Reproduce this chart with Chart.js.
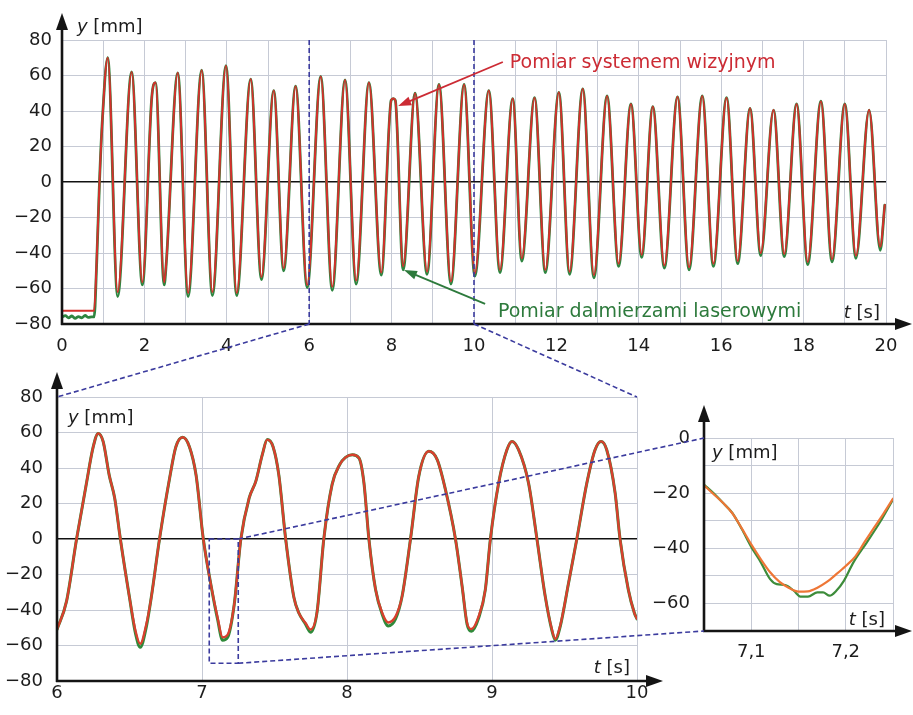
<!DOCTYPE html>
<html><head><meta charset="utf-8">
<script src="https://cdn.jsdelivr.net/npm/chart.js@4.4.1/dist/chart.umd.min.js"></script>
<style>
html,body{margin:0;padding:0;background:#fff;overflow:hidden;width:913px;height:715px;}
#wrap{position:absolute;left:0;top:0;width:913px;height:715px;overflow:hidden;background:#fff;}
canvas{position:absolute;left:0;top:0;display:block;}
</style></head><body>
<div id="wrap">
<canvas id="cTop" width="913" height="715"></canvas>
<canvas id="cBot" width="913" height="715"></canvas>
<canvas id="cIns" width="913" height="715"></canvas>
<canvas id="cOver" width="913" height="715"></canvas>
</div>
<script>
// ---------- DATA ----------
// Top panel: 0–20 s, vision system (red)
const topRedT = [0,0.78,0.84,0.91,0.98,1.11,1.35,1.69,1.95,2.18,2.27,2.48,2.53,2.81,3.06,3.39,3.65,3.98,4.24,4.58,4.84,5.14,5.38,5.67,5.95,6.28,6.56,6.87,7.14,7.45,7.75,7.99,8.04,8.09,8.28,8.57,8.86,9.15,9.44,9.76,10.02,10.36,10.63,10.94,11.16,11.47,11.73,12.06,12.32,12.64,12.91,13.23,13.51,13.81,14.07,14.34,14.62,14.94,15.22,15.54,15.81,16.13,16.40,16.70,16.96,17.27,17.53,17.83,18.10,18.42,18.69,19.00,19.27,19.59,19.86,19.97];
const topRed  = [-72.5,-72.5,-45,0,35,70,-62,62,-56.5,48,56,-56.5,-46,61.5,-62.5,63,-62,65.5,-62.5,58,-53.5,51.5,-48.5,54,-58,59.5,-59,57.5,-55.5,56,-51,46,47,46,-47.5,50,-50.5,55,-56,55,-51.5,51.5,-49.5,47,-43,47.5,-49.5,50.5,-50.5,52.5,-52.5,48.5,-46,44,-41,42.5,-47,48,-48,48.5,-46,47.5,-44.5,41.5,-40,40.5,-40.5,44,-45,45.5,-43.5,44,-41.5,40.5,-36.5,-13];
// Top panel: laser range finders (green)
const topGreenT = [0,0.08,0.16,0.24,0.32,0.40,0.48,0.56,0.64,0.72,0.78,0.84,0.91,0.98,1.11,1.35,1.69,1.95,2.18,2.27,2.48,2.53,2.81,3.06,3.39,3.65,3.98,4.24,4.58,4.84,5.14,5.38,5.67,5.95,6.28,6.56,6.87,7.14,7.45,7.75,7.99,8.04,8.09,8.28,8.57,8.86,9.15,9.44,9.76,10.02,10.36,10.63,10.94,11.16,11.47,11.73,12.06,12.32,12.64,12.91,13.23,13.51,13.81,14.07,14.34,14.62,14.94,15.22,15.54,15.81,16.13,16.40,16.70,16.96,17.27,17.53,17.83,18.10,18.42,18.69,19.00,19.27,19.59,19.86,19.97];
const topGreen  = [-76,-75.3,-76.5,-75.5,-76.8,-75.8,-76.5,-75.2,-76.3,-76,-76,-47,0,35,70,-64.5,62,-58,48,56,-58,-46,61.5,-64.5,63,-64,65.5,-64,58,-55,51.5,-50,54,-59.5,59.5,-61,57.5,-57.5,56,-52.5,46,47,46,-49.5,50,-52,55,-57.5,55,-53,51.5,-51,47,-44.5,47.5,-51,50.5,-52,52.5,-54,48.5,-47.5,44,-42.5,42.5,-48.5,48,-49.5,48.5,-47.5,47.5,-46,41.5,-41.5,40.5,-42,44,-46.5,45.5,-45,44,-43,40.5,-38.5,-13];

// Bottom-left panel: 6–10 s
const botT = [6.000,6.066,6.135,6.200,6.250,6.284,6.318,6.360,6.398,6.437,6.500,6.542,6.574,6.616,6.650,6.707,6.776,6.820,6.867,6.913,6.959,7.009,7.062,7.108,7.142,7.176,7.222,7.268,7.325,7.371,7.416,7.450,7.490,7.530,7.577,7.634,7.668,7.714,7.748,7.794,7.840,7.897,7.950,7.990,8.037,8.083,8.117,8.151,8.197,8.243,8.284,8.335,8.380,8.438,8.495,8.564,8.622,8.679,8.748,8.794,8.828,8.858,8.908,8.954,8.989,9.046,9.103,9.138,9.183,9.252,9.310,9.367,9.413,9.436,9.470,9.528,9.585,9.654,9.711,9.752,9.791,9.849,9.883,9.940,9.982,10.000];
const botRed = [-51,-35,0,30,52,59.5,55,36,23,0,-33,-52,-59,-48,-33,0,34,52,57.3,52,36,0,-26,-44.5,-55.4,-54,-37,0,23,32.5,47.5,56,52,36,0,-33,-41.7,-47.3,-51,-40.8,0,30.6,42,46,47.5,45.6,31.5,0,-28.5,-41.7,-47,-43.6,-32.3,0,35.3,49.4,44.7,27.8,0,-26.7,-47.3,-50.7,-43.6,-28.5,0,31.5,50.3,55,50.3,31.5,0,-32.3,-51,-56.3,-49,-24.8,0,31.5,50.3,55,50.3,26,0,-28.5,-41.7,-45];
const botGreen = [-51,-35,0,30,52,59.5,55,36,23,0,-33,-53.5,-61,-49.5,-33,0,34,52,57.3,52,36,0,-26,-45.5,-57,-55.5,-37,0,23,32.5,47.5,56,52,36,0,-33,-41.7,-48,-52.5,-40.8,0,30.6,42,46,47.5,45.6,31.5,0,-28.5,-42.5,-49,-45,-32.3,0,35.3,49.4,44.7,27.8,0,-26.7,-48,-52,-44.5,-28.5,0,31.5,50.3,55,50.3,31.5,0,-32.3,-51.5,-57,-49.5,-24.8,0,31.5,50.3,55,50.3,26,0,-28.5,-41.7,-45];

// Inset panel: 7.05–7.25 s
const insRedT = [7.05,7.06,7.07,7.08,7.09,7.10,7.11,7.12,7.13,7.14,7.15,7.16,7.17,7.18,7.19,7.20,7.21,7.22,7.23,7.24,7.25];
const insRed  = [-17.2,-20.3,-23.5,-27.3,-32.8,-38.6,-43.9,-48.7,-52.2,-54.4,-55.7,-55.6,-54.3,-52.2,-49.4,-46.4,-43,-37.7,-32.5,-27.4,-22];
const insGreenT = [7.05,7.06,7.07,7.08,7.09,7.10,7.11,7.12,7.127,7.136,7.145,7.152,7.16,7.17,7.176,7.183,7.19,7.198,7.208,7.222,7.237,7.25];
const insGreen  = [-16.9,-20,-23.5,-27.2,-33,-39.5,-45,-51.2,-53,-53.3,-55.4,-57.5,-57.5,-56,-56,-57.2,-55.4,-51.8,-45.2,-38,-30.1,-22.3];

// Tick settings
const topXTicks = {min:0, max:20, step:1};
const topYTicks = {min:-80, max:80, step:20};
const botXTicks = {min:6, max:10, step:1};
const botYTicks = {min:-80, max:80, step:20};
const insXTicks = {min:7.05, max:7.25, step:0.05};
const insYTicks = {min:-70, max:0, step:10};

// Annotations (top panel, in data units)
const annoRed   = {text:'Pomiar systemem wizyjnym', tx:10.87, ty:67, from:[10.70,67.6], tip:[8.16,42.8]};
const annoGreen = {text:'Pomiar dalmierzami laserowymi', tx:10.58, ty:-73.2, from:[10.27,-68.7], tip:[8.30,-49.6]};

// ---------- STYLE ----------
const FONT = "'DejaVu Sans', 'Liberation Sans', sans-serif";
const GRID = '#c6cad5';
const TICK = '#1c1c1c';
const AXIS = '#141414';
const DASH = '#3b3b9e';

const minus = v => (v < 0 ? '\u2212' + Math.abs(v) : String(v));
const pts = (xs, ys) => xs.map((x, i) => ({x: x, y: ys[i]}));

function arrowHead(ctx, x, y, ang, len, half){
  ctx.save(); ctx.translate(x, y); ctx.rotate(ang);
  ctx.beginPath(); ctx.moveTo(0, 0); ctx.lineTo(-len, -half); ctx.lineTo(-len, half); ctx.closePath(); ctx.fill();
  ctx.restore();
}

function axesPlugin(c){
  return {
    id: 'axesArrows',
    afterDraw(chart){
      const ctx = chart.ctx, a = chart.chartArea;
      ctx.save();
      ctx.strokeStyle = AXIS; ctx.fillStyle = AXIS; ctx.lineWidth = 2.6;
      const xTip = a.right + c.xExt, yTip = a.top - c.yExt;
      ctx.beginPath(); ctx.moveTo(a.left - 1, a.bottom); ctx.lineTo(xTip - 12, a.bottom); ctx.stroke();
      arrowHead(ctx, xTip, a.bottom, 0, 17, 6);
      ctx.beginPath(); ctx.moveTo(a.left, a.bottom + 1); ctx.lineTo(a.left, yTip + 12); ctx.stroke();
      arrowHead(ctx, a.left, yTip, -Math.PI / 2, 17, 6);
      // y [mm]
      ctx.textBaseline = 'middle'; ctx.textAlign = 'left'; ctx.fillStyle = TICK;
      let x = a.left + c.yLab.dx, y = a.top + c.yLab.dy;
      ctx.font = 'italic 18px ' + FONT; ctx.fillText('y', x, y);
      x += ctx.measureText('y').width;
      ctx.font = '18px ' + FONT; ctx.fillText(' [mm]', x, y);
      // t [s]
      ctx.font = '18px ' + FONT; const w2 = ctx.measureText(' [s]').width;
      ctx.font = 'italic 18px ' + FONT; const w1 = ctx.measureText('t').width;
      x = a.right - c.tLab.rx - w1 - w2; y = a.bottom - c.tLab.by;
      ctx.fillText('t', x, y);
      ctx.font = '18px ' + FONT; ctx.fillText(' [s]', x + w1, y);
      ctx.restore();
    }
  };
}

function baseOptions(c){
  const isZero = ctx => c.zero && ctx.tick && Math.abs(ctx.tick.value) < 1e-9;
  return {
    responsive:false, animation:false, events:[],
    layout:{padding:c.padding},
    elements:{point:{radius:0}, line:{cubicInterpolationMode:'monotone', borderCapStyle:'round', borderJoinStyle:'round'}},
    plugins:{legend:{display:false}, tooltip:{enabled:false}},
    scales:{
      x:{type:'linear', min:c.x.min, max:c.x.max, border:{display:false},
         grid:{color:GRID, lineWidth:1, drawTicks:false},
         ticks:{stepSize:c.x.step, autoSkip:false, maxRotation:0, padding:c.xPad, color:TICK, font:{family:FONT, size:18}, callback:c.xLabel},
         afterFit: s => { s.height = c.xHeight; s.paddingLeft = 0; s.paddingRight = 0; }},
      y:{type:'linear', min:c.y.min, max:c.y.max, border:{display:false},
         grid:{color: ctx => isZero(ctx) ? '#111' : GRID, lineWidth: ctx => isZero(ctx) ? 1.6 : 1, drawTicks:false},
         ticks:{stepSize:c.y.step, autoSkip:false, padding:c.yPad, color:TICK, font:{family:FONT, size:18}, callback:c.yLabel},
         afterFit: s => { s.width = c.yWidth; s.paddingTop = 0; s.paddingBottom = 0; }}
    }
  };
}

// ---------- TOP CHART ----------
const topChart = new Chart(document.getElementById('cTop'), {
  type:'line',
  data:{datasets:[
    {data:pts(topRedT, topRed), borderColor:'#d4302c', borderWidth:2, order:0},
    {data:pts(topGreenT, topGreen), borderColor:'#2e8540', borderWidth:2.8, order:1}
  ]},
  options: baseOptions({
    padding:{left:0, top:40, right:27, bottom:351}, yWidth:62, xHeight:40,
    x:topXTicks, y:topYTicks, xPad:12, yPad:10, zero:true,
    xLabel: v => (Math.round(v) % 2 === 0 ? String(Math.round(v)) : ''),
    yLabel: v => minus(v)
  }),
  plugins:[axesPlugin({xExt:26, yExt:27, yLab:{dx:15, dy:-13}, tLab:{rx:6, by:11}})]
});

// ---------- BOTTOM-LEFT CHART ----------
const botChart = new Chart(document.getElementById('cBot'), {
  type:'line',
  data:{datasets:[
    {data:pts(botT, botRed), borderColor:'#d8402e', borderWidth:2.4, order:0},
    {data:pts(botT, botGreen), borderColor:'#2f8a3a', borderWidth:3, order:1}
  ]},
  options: baseOptions({
    padding:{left:0, top:397, right:276, bottom:14}, yWidth:57, xHeight:20,
    x:botXTicks, y:botYTicks, xPad:2, yPad:14, zero:true,
    xLabel: v => String(Math.round(v)),
    yLabel: v => minus(v)
  }),
  plugins:[axesPlugin({xExt:26, yExt:25, yLab:{dx:11, dy:21}, tLab:{rx:7, by:13}})]
});

// ---------- INSET CHART ----------
const insChart = new Chart(document.getElementById('cIns'), {
  type:'line',
  data:{datasets:[
    {data:pts(insRedT, insRed), borderColor:'#ee7636', borderWidth:2.2, order:0},
    {data:pts(insGreenT, insGreen), borderColor:'#3d8c3a', borderWidth:2.2, order:1}
  ]},
  options: baseOptions({
    padding:{left:644, top:438, right:20, bottom:44}, yWidth:60, xHeight:40,
    x:insXTicks, y:insYTicks, xPad:11, yPad:14, zero:false,
    xLabel: v => { const k = Math.round(v * 100); return k % 10 === 0 ? (k / 100).toFixed(1).replace('.', ',') : ''; },
    yLabel: v => { const k = Math.round(v); return k % 20 === 0 ? minus(k) : ''; }
  }),
  plugins:[axesPlugin({xExt:19, yExt:33, yLab:{dx:8, dy:15}, tLab:{rx:8, by:11}})]
});

// ---------- OVERLAY: zoom connectors and annotations ----------
(function(){
  const oc = document.getElementById('cOver').getContext('2d');
  const P = (ch, x, y) => [ch.scales.x.getPixelForValue(x), ch.scales.y.getPixelForValue(y)];
  const line = (a, b) => { oc.beginPath(); oc.moveTo(a[0], a[1]); oc.lineTo(b[0], b[1]); oc.stroke(); };
  const tY = topChart.scales.y, bX = botChart.scales.x, bY = botChart.scales.y, iX = insChart.scales.x, iY = insChart.scales.y;

  oc.save();
  oc.strokeStyle = DASH; oc.lineWidth = 1.6; oc.setLineDash([5, 3]);
  [bX.min, bX.max].forEach(t => {
    line(P(topChart, t, tY.max), P(topChart, t, tY.min));
    line(P(topChart, t, tY.min), P(botChart, t, bY.max));
  });
  const r0 = P(botChart, iX.min, iY.max), r1 = P(botChart, iX.max, iY.min);
  oc.strokeRect(r0[0], r0[1], r1[0] - r0[0], r1[1] - r0[1]);
  line(P(botChart, iX.max, iY.max), P(insChart, iX.min, iY.max));
  line(P(botChart, iX.max, iY.min), P(insChart, iX.min, iY.min));
  oc.restore();

  function anno(a, color){
    const s = P(topChart, a.from[0], a.from[1]), e = P(topChart, a.tip[0], a.tip[1]);
    oc.save();
    oc.strokeStyle = color; oc.fillStyle = color; oc.lineWidth = 1.8;
    const ang = Math.atan2(e[1] - s[1], e[0] - s[0]);
    oc.beginPath(); oc.moveTo(s[0], s[1]); oc.lineTo(e[0] - 10 * Math.cos(ang), e[1] - 10 * Math.sin(ang)); oc.stroke();
    arrowHead(oc, e[0], e[1], ang, 13, 4.5);
    const t = P(topChart, a.tx, a.ty);
    oc.font = '19px ' + FONT; oc.textBaseline = 'middle'; oc.textAlign = 'left';
    oc.fillText(a.text, t[0], t[1]);
    oc.restore();
  }
  anno(annoRed, '#cc2b34');
  anno(annoGreen, '#2d7a3c');
})();
</script>
</body></html>
